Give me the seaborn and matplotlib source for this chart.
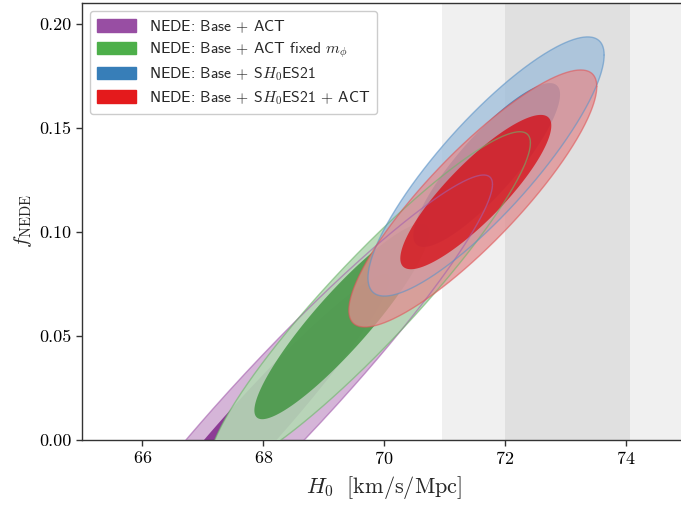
import numpy as np
import matplotlib
matplotlib.use("Agg")
import matplotlib.pyplot as plt
import seaborn as sns
import pandas as pd
from matplotlib.patches import Patch

# ---------------- data ----------------
labels = [
    "NEDE: Base $+$ ACT",
    "NEDE: Base $+$ ACT fixed $m_\\phi$",
    "NEDE: Base $+$ S$H_0$ES21",
    "NEDE: Base $+$ S$H_0$ES21 $+$ ACT",
]
# 95% contours (outer): centre, half-extent in H0, half-extent in f, correlation
outer_cx = [68.32, 69.77, 71.69, 71.47]
outer_cy = [0.020, 0.0666, 0.1315, 0.1161]
outer_wx = [3.476, 2.654, 1.955, 2.053]
outer_wy = [0.1074, 0.0816, 0.0623, 0.0618]
outer_rho = [0.958, 0.934, 0.86, 0.87]
# 68% contours (inner)
inner_cx = [67.77, 69.30, 71.70, 71.52]
inner_cy = [0.005, 0.057, 0.1322, 0.1192]
inner_wx = [2.33, 1.446, 1.215, 1.25]
inner_wy = [0.075, 0.047, 0.0394, 0.0371]
inner_rho = [0.966, 0.910, 0.86, 0.86]

# SH0ES 2021 H0 band
shoes_mean = 73.04
shoes_sigma = 1.04

xticks = [66, 68, 70, 72, 74]
yticks = [0.00, 0.05, 0.10, 0.15, 0.20]

# ---------------- style ----------------
sns.set_style("ticks")
plt.rcParams.update({
    "font.family": "serif",
    "font.serif": ["cmr10"],
    "mathtext.fontset": "cm",
    "axes.formatter.use_mathtext": True,
    "axes.edgecolor": "#333333",
    "axes.linewidth": 1.0,
    "xtick.color": "#333333",
    "ytick.color": "#333333",
    "xtick.labelcolor": "black",
    "ytick.labelcolor": "black",
})

pal = sns.color_palette("Set1")
colors = [pal[3], pal[2], pal[1], pal[0]]  # purple, green, blue, red (legend)
outer_fill = ["#c79ccb", "#b5d8b5", "#9cbcda", "#e28e90"]
outer_alpha = [0.75, 0.9, 0.75, 0.75]
inner_fill = ["#7f278a", "#439543", "#3e7cb6", "#d70008"]
inner_alpha = [0.85, 0.85, 0.8, 0.7]
line_col = ["#a45fae", "#6db56a", "#5b93c8", "#e05658"]

fig = plt.figure(figsize=(6.81, 5.07), dpi=100)
ax = fig.add_axes([82 / 681, 67 / 507, 604 / 681, 436.8 / 507])

# SH0ES bands
ax.axvspan(shoes_mean - 2 * shoes_sigma, shoes_mean + 2 * shoes_sigma, color="#f0f0f0", lw=0, zorder=0)
ax.axvspan(shoes_mean - shoes_sigma, shoes_mean + shoes_sigma, color="#e0e0e0", lw=0, zorder=0.1)

t = np.linspace(0, 2 * np.pi, 400)


def ellipse(cx, cy, wx, wy, rho):
    x = cx + wx * np.cos(t)
    y = cy + wy * (rho * np.cos(t) + np.sqrt(1 - rho ** 2) * np.sin(t))
    return x, y


outlines = []
for i in range(4):
    xo, yo = ellipse(outer_cx[i], outer_cy[i], outer_wx[i], outer_wy[i], outer_rho[i])
    xi, yi = ellipse(inner_cx[i], inner_cy[i], inner_wx[i], inner_wy[i], inner_rho[i])
    ax.fill(xo, yo, color=outer_fill[i], alpha=outer_alpha[i], lw=0, zorder=2 + i)
    ax.fill(xi, yi, color=inner_fill[i], alpha=inner_alpha[i], lw=0, zorder=2 + i)
    outlines.append(pd.DataFrame({"x": xo, "y": yo}))

# contour outlines drawn over all fills
for i, df in enumerate(outlines):
    sns.lineplot(data=df, x="x", y="y", sort=False, estimator=None, color=line_col[i],
                 alpha=0.6, lw=1.0, ax=ax, zorder=8 + i)

ax.set_xlim(65, 75)
ax.set_ylim(0, 0.21)
ax.set_xticks(xticks)
ax.set_yticks(yticks)
ax.set_yticklabels([f"{v:.2f}" for v in yticks])
ax.tick_params(labelsize=13, length=4, width=1)
ax.set_xlabel(r"$H_0\ \ [\mathrm{km/s/Mpc}]$", fontsize=16, labelpad=5)
ax.set_ylabel(r"$f_{\rm NEDE}$", fontsize=15, labelpad=4)
sns.despine(ax=ax, top=False, right=True)

handles = [Patch(facecolor=c, edgecolor=c) for c in colors]
leg = ax.legend(handles, labels, loc="upper left", prop={"family": "cmss10", "size": 11.3},
                handlelength=2.5, handleheight=0.85, labelspacing=0.36, borderpad=0.45,
                frameon=True, fancybox=True, framealpha=1.0, edgecolor="#cccccc",
                bbox_to_anchor=(0.0, 1.0), borderaxespad=0.5)
leg.set_zorder(20)

fig.savefig("out.png", dpi=100)
